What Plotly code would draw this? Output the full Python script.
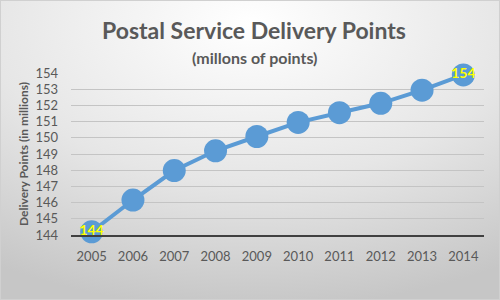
import base64
import plotly.graph_objects as go

years = ["2005", "2006", "2007", "2008", "2009", "2010", "2011", "2012", "2013", "2014"]
points = [144.2, 146.16, 147.98, 149.2, 150.08, 150.95, 151.55, 152.13, 152.94, 153.88]
label_idx = [0, len(points) - 1]
labels = [f"{v:.0f}" if i in label_idx else "" for i, v in enumerate(points)]

W, H = 500, 300
ml, mr, mt, mb = 71, 16, 73, 65
pw, ph = W - ml - mr, H - mt - mb

svg = f'''<svg xmlns="http://www.w3.org/2000/svg" width="{W}" height="{H}">
<defs><radialGradient id="g" cx="50%" cy="8%" r="95%" fx="50%" fy="8%">
<stop offset="0" stop-color="#ffffff"/><stop offset="0.55" stop-color="#e6e6e6"/><stop offset="1" stop-color="#c6c6c6"/>
</radialGradient></defs>
<rect width="{W}" height="{H}" fill="url(#g)"/>
<rect x="0.5" y="0.5" width="{W-1}" height="{H-1}" fill="none" stroke="#d0d0d0"/>
</svg>'''
src = "data:image/svg+xml;base64," + base64.b64encode(svg.encode()).decode()

fig = go.Figure()
fig.add_trace(go.Scatter(
    x=years, y=points, mode="lines+markers+text",
    line=dict(color="#5B9BD5", width=4),
    marker=dict(color="#5B9BD5", size=23),
    text=labels, textposition="middle center",
    textfont=dict(family="Lato", size=14, color="#FFFF00", weight="bold"),
    cliponaxis=False, hoverinfo="skip",
))

fig.update_layout(
    width=W, height=H,
    margin=dict(l=ml, r=mr, t=mt, b=mb),
    paper_bgcolor="#e0e0e0", plot_bgcolor="rgba(0,0,0,0)",
    showlegend=False,
    font=dict(family="Lato", color="#595959"),
    images=[dict(source=src, xref="paper", yref="paper",
                 x=-ml / pw, y=1 + mt / ph, sizex=W / pw, sizey=H / ph,
                 xanchor="left", yanchor="top", sizing="stretch", layer="below")],
    annotations=[
        dict(text="<b>Postal Service Delivery Points</b>", xref="paper", yref="paper",
             x=(254 - ml) / pw, y=1 + (73 - 30) / ph, xanchor="center", yanchor="middle",
             showarrow=False, font=dict(size=23, color="#595959", family="Lato")),
        dict(text="<b>(millons of points)</b>", xref="paper", yref="paper",
             x=(254 - ml) / pw, y=1 + (73 - 57) / ph, xanchor="center", yanchor="middle",
             showarrow=False, font=dict(size=16, color="#595959", family="Lato")),
    ],
)
fig.update_xaxes(type="category", showgrid=False, showline=True, linecolor="#404040",
                 linewidth=2, ticks="", tickfont=dict(size=13, color="#595959"),
                 ticklabelstandoff=8,
                 range=[-0.5, len(years) - 0.5], fixedrange=True)
fig.update_yaxes(range=[144, 154], dtick=1, showgrid=True, gridcolor="#c4c4c4", gridwidth=1,
                 zeroline=False, showline=False, ticks="", tickfont=dict(size=13, color="#595959"),
                 ticklabelstandoff=12,
                 title=dict(text="<b>Delivery Points (in millions)</b>", font=dict(size=12, color="#595959"),
                            standoff=4),
                 fixedrange=True)

fig.write_html("out.html", config={"displayModeBar": False})
